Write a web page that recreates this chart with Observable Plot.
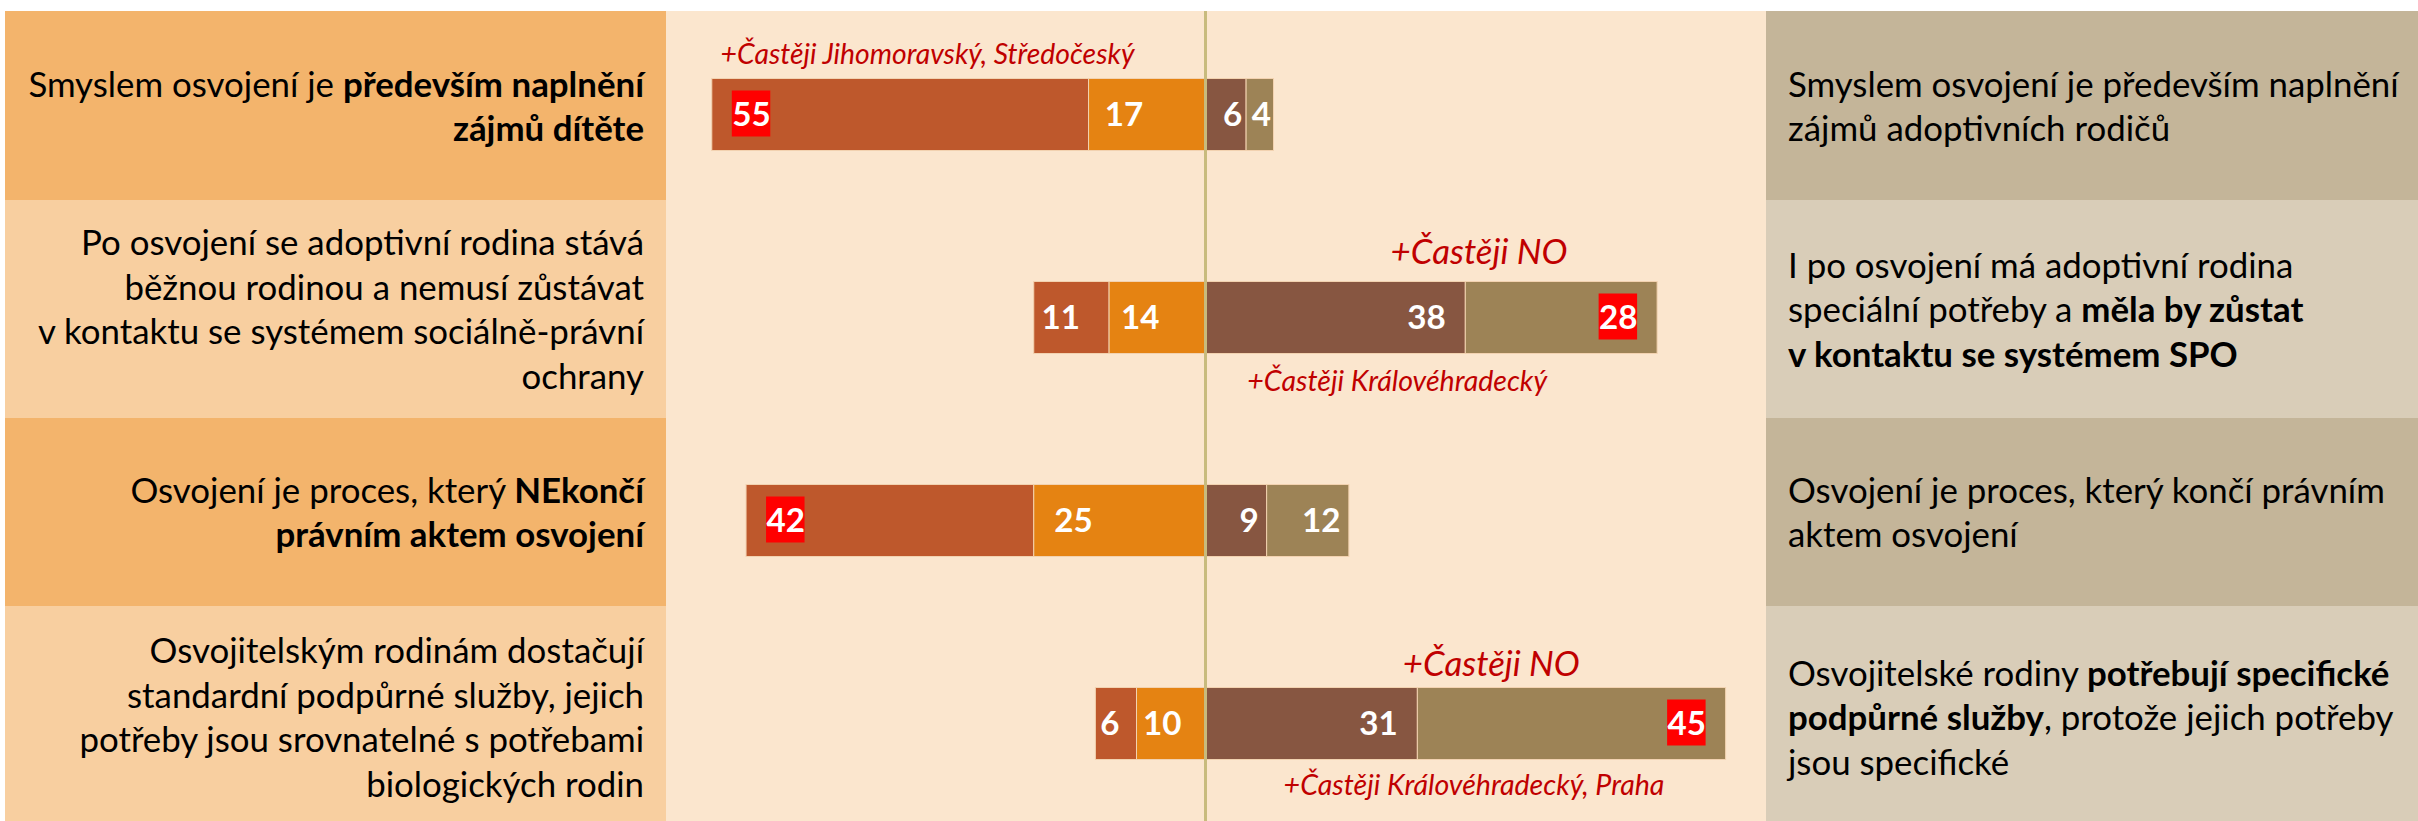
<!DOCTYPE html>
<html>
<head>
<meta charset="utf-8">
<script src="https://cdn.jsdelivr.net/npm/d3@7"></script>
<script src="https://cdn.jsdelivr.net/npm/@observablehq/plot@0.6"></script>
<style>
  html, body { margin: 0; padding: 0; background: #ffffff; }
  #chart svg { display: block; }
</style>
</head>
<body>
<div id="chart"></div>
<script>
// ---------------- DATA ----------------
const rowKeys = ["smysl", "kontakt", "proces", "sluzby"];

const leftStatements = [
  ["Smyslem osvojení je **především naplnění**", "**zájmů dítěte**"],
  ["Po osvojení se adoptivní rodina stává", "běžnou rodinou a nemusí zůstávat", "v kontaktu se systémem sociálně-právní", "ochrany"],
  ["Osvojení je proces, který **NEkončí**", "**právním aktem osvojení**"],
  ["Osvojitelským rodinám dostačují", "standardní podpůrné služby, jejich", "potřeby jsou srovnatelné s potřebami", "biologických rodin"]
];
const rightStatements = [
  ["Smyslem osvojení je především naplnění", "zájmů adoptivních rodičů"],
  ["I po osvojení má adoptivní rodina", "speciální potřeby a **měla by zůstat**", "**v kontaktu se systémem SPO**"],
  ["Osvojení je proces, který končí právním", "aktem osvojení"],
  ["Osvojitelské rodiny **potřebují specifické**", "**podpůrné služby**, protože jejich potřeby", "jsou specifické"]
];

const series = ["definitelyLeft", "ratherLeft", "ratherRight", "definitelyRight"];
const definitelyLeft  = [55, 11, 42, 6];
const ratherLeft      = [17, 14, 25, 10];
const ratherRight     = [6, 38, 9, 31];
const definitelyRight = [4, 28, 12, 45];
const highlighted = ["definitelyLeft", "definitelyRight", "definitelyLeft", "definitelyRight"];

const notesAbove = ["+Častěji Jihomoravský, Středočeský", "+Častěji NO", "", "+Častěji NO"];
const notesBelow = ["", "+Častěji Královéhradecký", "", "+Častěji Královéhradecký, Praha"];

// ---------------- LAYOUT / STYLE ----------------
const W = 2418, H = 821;
const zeroPx = 1205, k = 6.85;               // px per percentage point
const rowEdges = [11, 200, 418, 606, 821];
const textBase = [119, 322, 525, 730];        // baseline of a single centred line
const lineH = 44.5;
const leftPanel = [5, 666], midPanel = [666, 1766], rightPanel = [1766, 2418];
const leftFills = ["#F3B46C", "#F8CFA0"];
const rightFills = ["#C4B599", "#D9CDB8"];
const midFill = "#FBE6CE";
const seriesColors = ["#BE582C", "#E58312", "#875641", "#9D8356"];
const noteColor = "#C00000";
const aboveLayout = [{x: -70.8, dy: -51, big: false}, {x: 27.0, dy: -54, big: true}, null, {x: 28.8, dy: -48, big: true}];
const belowLayout = [null, {x: 6.1, dy: 73}, null, {x: 11.4, dy: 71}];

const ctx = document.createElement("canvas").getContext("2d");
function measure(text, font) { ctx.font = font; return ctx.measureText(text).width; }
function fit(text, style, weight, target) {
  return 100 * target / measure(text, `${style} ${weight} 100px Lato`);
}
const panelSize = fit(rightStatements[0][0], "normal", 400, 611);
const labelSize = fit("55", "normal", 700, 38.5);
const noteSize = fit(notesAbove[0], "italic", 400, 415);
const bigNoteSize = fit(notesAbove[1], "italic", 400, 177);
const belowSize = fit(notesBelow[3], "italic", 400, 381);

// ---------------- DERIVED TABLE ----------------
const segments = [];
rowKeys.forEach((row, i) => {
  const dl = definitelyLeft[i], rl = ratherLeft[i], rr = ratherRight[i], dr = definitelyRight[i];
  segments.push({row, series: "definitelyLeft", value: dl, x1: -(rl + dl), x2: -rl, side: "left"});
  segments.push({row, series: "ratherLeft", value: rl, x1: -rl, x2: 0, side: "left"});
  segments.push({row, series: "ratherRight", value: rr, x1: 0, x2: rr, side: "right"});
  segments.push({row, series: "definitelyRight", value: dr, x1: rr, x2: rr + dr, side: "right"});
});
segments.forEach(s => {
  const wPx = s.value * k;
  const lw = measure(String(s.value), `normal 700 ${labelSize}px Lato`);
  const pad = Math.max(3, Math.min(20, (wPx - lw) * 0.2));
  if (s.side === "left") { s.lx = s.x1 + pad / k; s.bx1 = s.lx; s.bx2 = s.lx + lw / k; }
  else { s.lx = s.x2 - pad / k; s.bx2 = s.lx; s.bx1 = s.lx - lw / k; }
  s.hl = highlighted[rowKeys.indexOf(s.row)] === s.series;
});

const noteMarks = [];
rowKeys.forEach((row, i) => {
  if (notesAbove[i]) {
    const L = aboveLayout[i];
    noteMarks.push(Plot.text([0], {
      x: [L.x], y: [row], text: [notesAbove[i]], textAnchor: "start", lineAnchor: "bottom",
      dy: L.dy, fontSize: L.big ? bigNoteSize : noteSize, fontStyle: "italic", fill: noteColor
    }));
  }
  if (notesBelow[i]) {
    const L = belowLayout[i];
    noteMarks.push(Plot.text([0], {
      x: [L.x], y: [row], text: [notesBelow[i]], textAnchor: "start", lineAnchor: "bottom",
      dy: L.dy, fontSize: belowSize, fontStyle: "italic", fill: noteColor
    }));
  }
});

// ---------------- PLOT ----------------
const plot = Plot.plot({
  width: W, height: H,
  marginTop: rowEdges[0], marginBottom: 0, marginLeft: 0, marginRight: 0,
  style: {fontFamily: "Lato, sans-serif", background: "transparent", overflow: "visible"},
  x: {domain: [-100, 100], range: [zeroPx - 100 * k, zeroPx + 100 * k], axis: null},
  y: {type: "band", domain: rowKeys, range: [12.5, 824.5], padding: 0, axis: null},
  color: {domain: series, range: seriesColors},
  marks: [
    Plot.barX(segments, {x1: "x1", x2: "x2", y: "row", fill: "series",
      insetTop: 65.5, insetBottom: 65.5, stroke: "#F2D2B0", strokeWidth: 1}),
    Plot.barX(segments.filter(d => d.hl), {x1: "bx1", x2: "bx2", y: "row", fill: "#FF0000",
      insetTop: 77.5, insetBottom: 79.5}),
    Plot.ruleX([0], {stroke: "#C8BB7D", strokeWidth: 3}),
    Plot.text(segments.filter(d => d.side === "left"), {x: "lx", y: "row", text: d => String(d.value),
      textAnchor: "start", fill: "white", fontWeight: 700, fontSize: labelSize}),
    Plot.text(segments.filter(d => d.side === "right"), {x: "lx", y: "row", text: d => String(d.value),
      textAnchor: "end", fill: "white", fontWeight: 700, fontSize: labelSize}),
    ...noteMarks
  ]
});

// ---------------- PANELS & STATEMENT TEXT ----------------
const svg = d3.select(plot);
const bg = svg.insert("g", ":first-child").attr("class", "panels");
bg.append("rect").attr("x", midPanel[0]).attr("y", rowEdges[0])
  .attr("width", midPanel[1] - midPanel[0]).attr("height", rowEdges[4] - rowEdges[0]).attr("fill", midFill);
for (let i = 0; i < 4; i++) {
  bg.append("rect").attr("x", leftPanel[0]).attr("y", rowEdges[i])
    .attr("width", leftPanel[1] - leftPanel[0]).attr("height", rowEdges[i + 1] - rowEdges[i])
    .attr("fill", leftFills[i % 2]);
  bg.append("rect").attr("x", rightPanel[0]).attr("y", rowEdges[i])
    .attr("width", rightPanel[1] - rightPanel[0]).attr("height", rowEdges[i + 1] - rowEdges[i])
    .attr("fill", rightFills[i % 2]);
}

const tg = svg.append("g").attr("class", "statements")
  .attr("font-family", "Lato, sans-serif").attr("font-size", panelSize).attr("fill", "#000");
function drawStatement(lines, x, anchor, i) {
  const first = textBase[i] - (lines.length - 1) * lineH / 2;
  lines.forEach((line, j) => {
    const t = tg.append("text").attr("x", x).attr("y", first + j * lineH)
      .attr("text-anchor", anchor).style("white-space", "pre");
    line.split("**").forEach((part, p) => {
      if (!part) return;
      t.append("tspan").attr("font-weight", p % 2 ? 700 : 400).text(part);
    });
  });
}
rowKeys.forEach((row, i) => {
  drawStatement(leftStatements[i], 644, "end", i);
  drawStatement(rightStatements[i], 1788, "start", i);
});

document.getElementById("chart").appendChild(plot);
</script>
</body>
</html>
